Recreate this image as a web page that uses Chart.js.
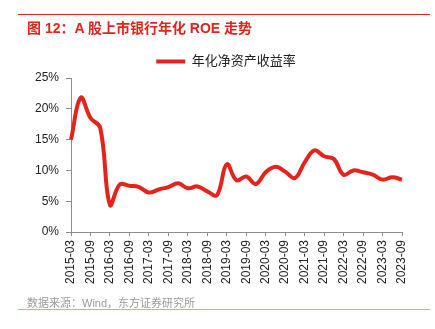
<!DOCTYPE html>
<html>
<head>
<meta charset="utf-8">
<script src="https://cdn.jsdelivr.net/npm/chart.js@4/dist/chart.umd.min.js"></script>
<style>
  html, body { margin: 0; padding: 0; background: #fff; }
  #wrap { position: relative; width: 435px; height: 329px; overflow: hidden; }
  #c { position: absolute; left: 0; top: 0; }
  .rule { position: absolute; left: 18px; width: 412px; }
  #topRule { top: 14px; height: 1px; background: #e3231c; }
  #bottomRule { top: 309px; height: 1px; background: #f19a97; }
  #title {
    position: absolute; left: 27px; top: 17px;
    font: bold 14px "Liberation Sans", "Noto Sans CJK SC", sans-serif;
    color: #e3231c; white-space: nowrap;
  }
  #source {
    position: absolute; left: 27px; top: 294px;
    font: 11px "Liberation Sans", "Noto Sans CJK SC", sans-serif;
    color: #9a9a9a; white-space: nowrap;
  }
</style>
</head>
<body>
<div id="wrap">
  <canvas id="c" width="435" height="329"></canvas>
  <div class="rule" id="topRule"></div>
  <div id="title">图 12：A 股上市银行年化 ROE 走势</div>
  <div id="source">数据来源：Wind，东方证券研究所</div>
  <div class="rule" id="bottomRule"></div>
</div>
<script>
// Quarter-end dates, 2015-03 through 2023-09
const quarters = [
  '2015-03','2015-06','2015-09','2015-12',
  '2016-03','2016-06','2016-09','2016-12',
  '2017-03','2017-06','2017-09','2017-12',
  '2018-03','2018-06','2018-09','2018-12',
  '2019-03','2019-06','2019-09','2019-12',
  '2020-03','2020-06','2020-09','2020-12',
  '2021-03','2021-06','2021-09','2021-12',
  '2022-03','2022-06','2022-09','2022-12',
  '2023-03','2023-06','2023-09'
];

// Annualized ROE of listed banks, %
const roe = [
  15.0, 21.8, 18.5, 16.9,
  4.4, 7.7, 7.5, 7.3,
  6.4, 6.9, 7.3, 7.9,
  7.1, 7.4, 6.6, 6.0,
  11.0, 8.4, 9.0, 7.8,
  9.7, 10.6, 9.8, 8.75,
  11.3, 13.25, 12.3, 11.85,
  9.3, 10.0, 9.7, 9.3,
  8.5, 8.9, 8.5
];

// Labels shown on the category axis (half-yearly)
const tickLabels = [
  '2015-03','2015-09','2016-03','2016-09','2017-03','2017-09',
  '2018-03','2018-09','2019-03','2019-09','2020-03','2020-09',
  '2021-03','2021-09','2022-03','2022-09','2023-03','2023-09'
];

// Y-axis tick values, %
const yTicks = [0, 5, 10, 15, 20, 25];

const seriesName = '年化净资产收益率';
const RED = '#e3231c';
const AXIS = '#8c8c8c';
const FONT = '"Liberation Sans", "Noto Sans CJK SC", sans-serif';

// Nudge the legend to the right so it sits centred over the plot
const legendShift = {
  id: 'legendShift',
  afterLayout(chart) {
    const lg = chart.legend;
    if (lg) { lg.left += 25; lg.right += 25; }
  }
};

new Chart(document.getElementById('c'), {
  type: 'line',
  data: {
    labels: quarters,
    datasets: [{
      label: seriesName,
      data: roe,
      borderColor: RED,
      backgroundColor: RED,
      borderWidth: 4,
      pointRadius: 0,
      pointStyle: 'line',
      tension: 0.4,
      fill: false
    }]
  },
  plugins: [legendShift],
  options: {
    responsive: false,
    animation: false,
    layout: { padding: { top: 45, left: 0, right: 33, bottom: 36 } },
    plugins: {
      legend: {
        display: true,
        position: 'top',
        labels: {
          usePointStyle: true,
          pointStyleWidth: 29,
          boxHeight: 4,
          padding: 10,
          color: '#222',
          font: { family: FONT, size: 13 }
        }
      },
      tooltip: { enabled: false }
    },
    scales: {
      x: {
        offset: false,
        afterFit: s => { s.height = 61; },
        grid: {
          display: true,
          drawOnChartArea: false,
          drawTicks: true,
          tickLength: 4,
          color: AXIS
        },
        border: { display: true, color: AXIS, width: 1 },
        ticks: {
          autoSkip: false,
          minRotation: 90,
          maxRotation: 90,
          padding: 4,
          color: '#222',
          font: { family: FONT, size: 12 },
          callback: function (v, i) {
            const lab = quarters[i];
            return tickLabels.includes(lab) ? lab : null;
          }
        }
      },
      y: {
        min: yTicks[0],
        max: yTicks[yTicks.length - 1],
        afterFit: s => { s.width = 71; },
        afterBuildTicks: s => { s.ticks = yTicks.map(v => ({ value: v })); },
        grid: {
          display: true,
          drawOnChartArea: false,
          drawTicks: true,
          tickLength: 5,
          color: AXIS
        },
        border: { display: true, color: AXIS, width: 1 },
        ticks: {
          padding: 7,
          color: '#222',
          font: { family: FONT, size: 12 },
          callback: v => v + '%'
        }
      }
    }
  }
});
</script>
</body>
</html>
